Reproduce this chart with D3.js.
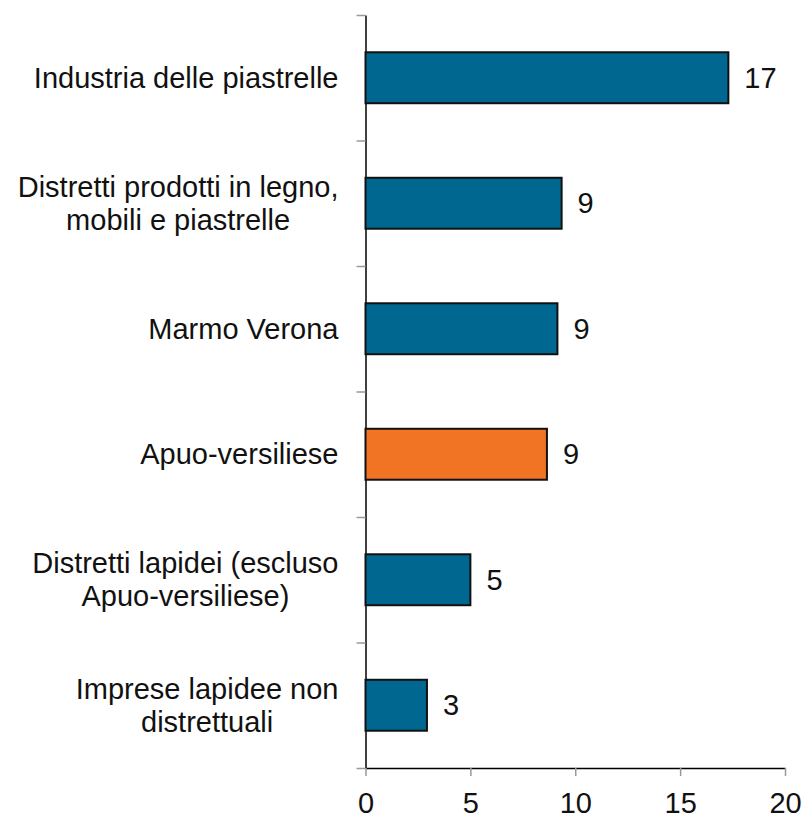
<!DOCTYPE html>
<html>
<head>
<meta charset="utf-8">
<script src="https://cdn.jsdelivr.net/npm/d3@7"></script>
<style>
  body { margin: 0; background: #fff; }
  text { font-family: "Liberation Sans", Arial, Helvetica, sans-serif; fill: #111; }
</style>
</head>
<body>
<div id="wrapper"></div>
<script>
// data
const categories = [
  ["Industria delle piastrelle"],
  ["Distretti prodotti in legno,", "mobili e piastrelle"],
  ["Marmo Verona"],
  ["Apuo-versiliese"],
  ["Distretti lapidei (escluso", "Apuo-versiliese)"],
  ["Imprese lapidee non", "distrettuali"]
]
const values = [17.3, 9.35, 9.15, 8.65, 5.0, 2.93]
const valueLabels = ["17", "9", "9", "9", "5", "3"]
const highlighted = [false, false, false, true, false, false]
const xTicks = [0, 5, 10, 15, 20]

const dimensions = {
  width: 803,
  height: 818,
  margin: { top: 15, right: 18, bottom: 50, left: 365.5 }
}
dimensions.boundedWidth = dimensions.width - dimensions.margin.left - dimensions.margin.right
dimensions.boundedHeight = dimensions.height - dimensions.margin.top - dimensions.margin.bottom

const wrapper = d3.select("#wrapper")
  .append("svg")
    .attr("width", dimensions.width)
    .attr("height", dimensions.height)

const bounds = wrapper.append("g")
    .attr("transform", `translate(${dimensions.margin.left},${dimensions.margin.top})`)

const ids = d3.range(categories.length)

const xScale = d3.scaleLinear()
    .domain([0, 20])
    .range([0, dimensions.boundedWidth])

const pad = 0.594
const yScale = d3.scaleBand()
    .domain(ids)
    .range([0, dimensions.boundedHeight])
    .paddingInner(pad)
    .paddingOuter(pad / 2)

// boundaries between categories for the y ticks
const yBound = d3.scaleLinear()
    .domain([0, categories.length])
    .range([0, dimensions.boundedHeight])

const yAxis = bounds.append("g")
    .call(d3.axisLeft(yBound)
      .tickValues(d3.range(categories.length + 1))
      .tickFormat("")
      .tickSize(9)
      .tickSizeOuter(0))
yAxis.select(".domain").attr("stroke", "#000").attr("stroke-width", 1.5)
yAxis.selectAll(".tick line").attr("stroke", "#999").attr("stroke-width", 1.5)

const xAxis = bounds.append("g")
    .attr("transform", `translate(0,${dimensions.boundedHeight})`)
    .call(d3.axisBottom(xScale)
      .tickValues(xTicks)
      .tickSize(8)
      .tickSizeOuter(0)
      .tickPadding(16))
xAxis.select(".domain").attr("stroke", "#000").attr("stroke-width", 1.5)
xAxis.selectAll(".tick line").attr("stroke", "#999").attr("stroke-width", 1.5)
xAxis.selectAll(".tick text")
    .attr("font-size", 29)
    .attr("fill", "#111")
    .style("font-family", "'Liberation Sans', Arial, sans-serif")

// bars
bounds.selectAll(".bar")
  .data(ids)
  .join("rect")
    .attr("class", "bar")
    .attr("x", xScale(0))
    .attr("y", d => yScale(d))
    .attr("width", d => xScale(values[d]) - xScale(0))
    .attr("height", yScale.bandwidth())
    .attr("fill", d => highlighted[d] ? "#f07423" : "#006890")
    .attr("stroke", "#111")
    .attr("stroke-width", 2)

// value labels
bounds.selectAll(".val")
  .data(ids)
  .join("text")
    .attr("class", "val")
    .attr("x", d => xScale(values[d]) + 16)
    .attr("y", d => yScale(d) + yScale.bandwidth() / 2)
    .attr("dy", "0.35em")
    .attr("font-size", 29)
    .text(d => valueLabels[d])

// category labels, lines centred among themselves, block right-aligned
const lineH = 33
const labelRight = -27
ids.forEach(i => {
  const lines = categories[i]
  const cy = yScale(i) + yScale.bandwidth() / 2
  const g = bounds.append("g")
  const texts = lines.map((line, j) => g.append("text")
      .attr("font-size", 29)
      .attr("text-anchor", "middle")
      .attr("y", cy + (j - (lines.length - 1) / 2) * lineH)
      .attr("dy", "0.35em")
      .text(line))
  const maxW = d3.max(texts, t => t.node().getComputedTextLength())
  texts.forEach(t => t.attr("x", labelRight - maxW / 2))
})
</script>
</body>
</html>
